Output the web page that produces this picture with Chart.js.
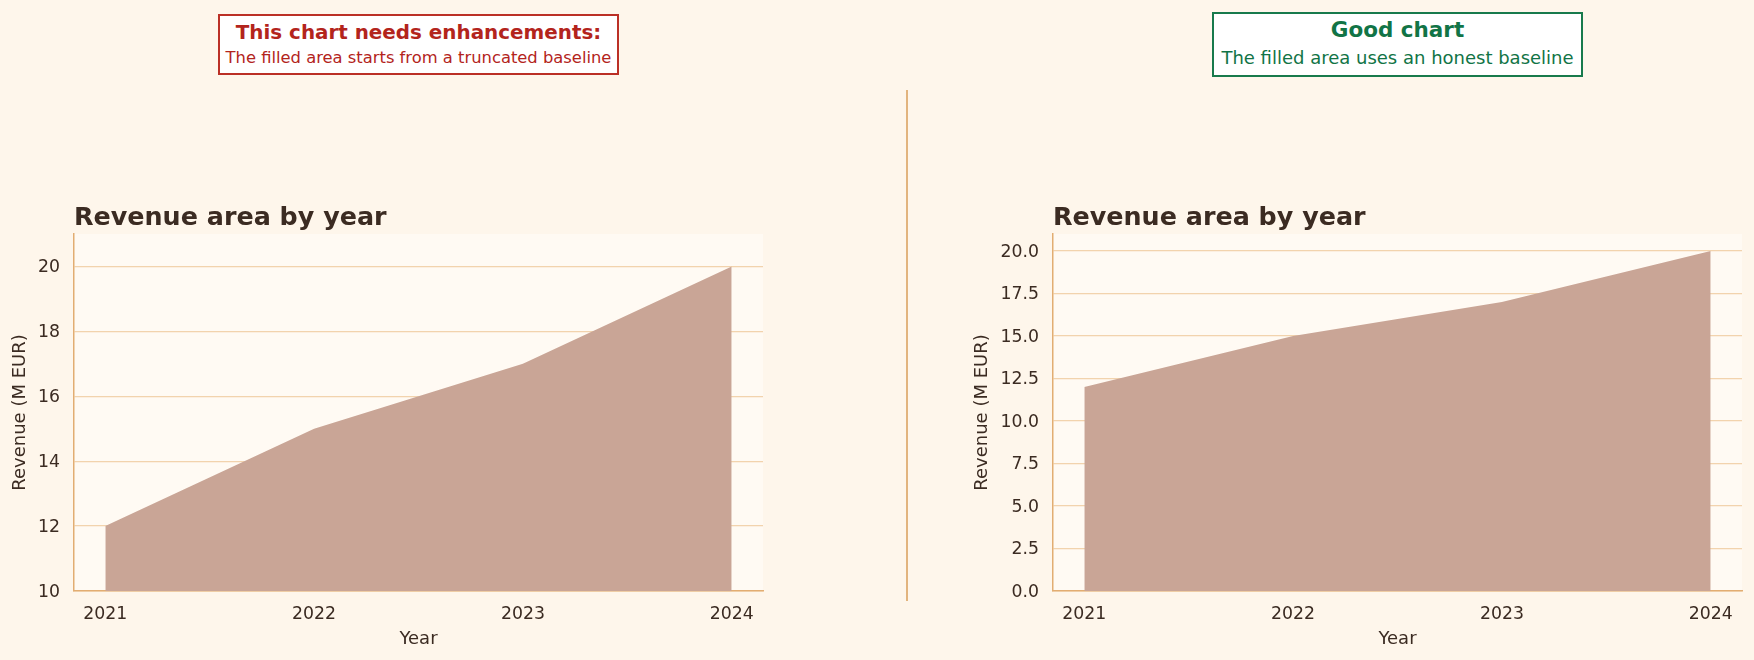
<!DOCTYPE html>
<html><head><meta charset="utf-8">
<script src="https://cdn.jsdelivr.net/npm/chart.js@4.4.1/dist/chart.umd.min.js"></script>
<style>
html,body{margin:0;padding:0;background:#fef6eb;width:1754px;height:660px;overflow:hidden;font-family:"DejaVu Sans",sans-serif;}
.box{position:absolute;background:#fff;box-sizing:border-box;border:2px solid;}
.t{position:absolute;left:0;width:100%;text-align:center;white-space:nowrap;}
.sep{position:absolute;left:906px;top:90px;width:2px;height:511px;background:#e2b47e;}
canvas{position:absolute;}
</style></head><body>
<div class="box" style="left:218px;top:14px;width:401px;height:61px;border-color:#bb3026;color:#b3241c;">
  <div class="t" style="top:4.7px;line-height:24px;font-size:19.9px;font-weight:bold;">This chart needs enhancements:</div>
  <div class="t" style="top:31.8px;line-height:20px;font-size:16.35px;">The filled area starts from a truncated baseline</div>
</div>
<div class="box" style="left:1212px;top:12px;width:371px;height:65px;border-color:#187a4c;color:#117446;">
  <div class="t" style="top:3.3px;line-height:26px;font-size:21.5px;font-weight:bold;">Good chart</div>
  <div class="t" style="top:33.2px;line-height:22px;font-size:18px;">The filled area uses an honest baseline</div>
</div>
<div class="sep"></div>
<canvas id="left" width="790" height="480" style="left:0px;top:180px;"></canvas>
<canvas id="right" width="792" height="480" style="left:962px;top:180px;"></canvas>
<script>
// ---- data ----
const years = [2021, 2022, 2023, 2024];
const revenue = [12, 15, 17, 20];
const yTicksLeft = [10, 12, 14, 16, 18, 20];
const yTicksRight = [0, 2.5, 5, 7.5, 10, 12.5, 15, 17.5, 20];
const yMinLeft = 10, yMinRight = 0, yMaxBoth = 21;
const chartTitle = 'Revenue area by year';
const xLabel = 'Year';
const yLabel = 'Revenue (M EUR)';

const FONT = '"DejaVu Sans", sans-serif';
const TXT = '#3b2b22';
const GRID = 'rgba(232,178,115,0.55)';
const SPINE = '#e2ad72';
const FILL = '#c9a596';

const plotBg = {
  id: 'plotBg',
  beforeDraw(chart) {
    const a = chart.chartArea, c = chart.ctx;
    c.save(); c.fillStyle = '#fffaf3'; c.fillRect(a.left, a.top, a.right - a.left, a.bottom - a.top); c.restore();
  }
};

function makeChart(id, opt) {
  const margin = 0.05 * (years[years.length - 1] - years[0]);
  return new Chart(document.getElementById(id), {
    type: 'line',
    data: {
      datasets: [{
        data: years.map((y, i) => ({x: y, y: revenue[i]})),
        fill: 'start',
        backgroundColor: FILL,
        borderWidth: 0,
        borderColor: 'rgba(0,0,0,0)',
        pointRadius: 0,
        tension: 0
      }]
    },
    options: {
      responsive: false,
      animation: false,
      devicePixelRatio: 1,
      layout: {padding: {left: 0, right: opt.padRight, top: 0, bottom: 0}},
      plugins: {
        legend: {display: false},
        tooltip: {enabled: false},
        title: {
          display: true, text: chartTitle, align: 'start', fullSize: false,
          color: TXT, font: {family: FONT, size: 25.4, weight: 'bold', lineHeight: 1.2},
          padding: {top: 23, bottom: 0.5}
        }
      },
      scales: {
        x: {
          type: 'linear', z: 1,
          min: years[0] - margin, max: years[years.length - 1] + margin,
          afterBuildTicks: s => { s.ticks = years.map(v => ({value: v})); },
          afterFit: s => { s.height = 69; },
          grid: {display: false, drawTicks: false},
          border: {display: true, color: SPINE, width: 1.5},
          ticks: {color: TXT, font: {family: FONT, size: 17.3, lineHeight: 1.2}, padding: 13, maxRotation: 0, callback: v => String(v)},
          title: {display: true, text: xLabel, color: TXT, font: {family: FONT, size: 18, lineHeight: 1.2}, padding: {top: 0, bottom: 10}}
        },
        y: {
          type: 'linear', z: 1,
          min: opt.yMin, max: yMaxBoth,
          afterBuildTicks: s => { s.ticks = opt.yTicks.map(v => ({value: v})); },
          afterFit: s => { s.width = opt.yWidth; },
          grid: {display: true, drawTicks: false, color: GRID, lineWidth: 1.3},
          border: {display: true, color: SPINE, width: 1.5},
          ticks: {color: TXT, font: {family: FONT, size: 17.3, lineHeight: 1.2}, padding: 14, labelOffset: 1.5, callback: opt.fmt},
          title: {display: true, text: yLabel, color: TXT, font: {family: FONT, size: 18, lineHeight: 1.2}, padding: {top: 9.2, bottom: 0}}
        }
      }
    },
    plugins: [plotBg]
  });
}

makeChart('left', {yMin: yMinLeft, yTicks: yTicksLeft, fmt: v => String(v), yWidth: 74, padRight: 27});
makeChart('right', {yMin: yMinRight, yTicks: yTicksRight, fmt: v => Number(v).toFixed(1), yWidth: 91, padRight: 12});
</script>
</body></html>
